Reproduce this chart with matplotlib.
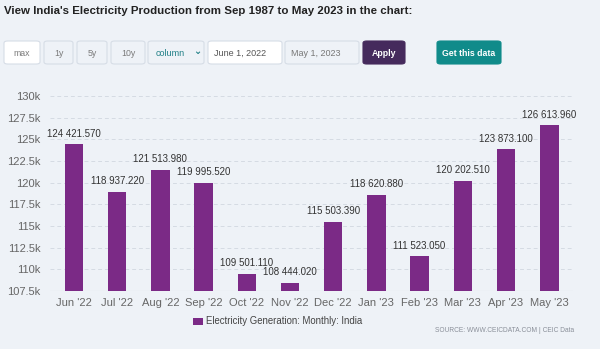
import numpy as np
import matplotlib.pyplot as plt
from matplotlib.patches import FancyBboxPatch, Rectangle
from matplotlib.ticker import FuncFormatter

months = ["Jun '22", "Jul '22", "Aug '22", "Sep '22", "Oct '22", "Nov '22",
          "Dec '22", "Jan '23", "Feb '23", "Mar '23", "Apr '23", "May '23"]
values = [124421.570, 118937.220, 121513.980, 119995.520, 109501.110, 108444.020,
          115503.390, 118620.880, 111523.050, 120202.510, 123873.100, 126613.960]
y_ticks = [107500, 110000, 112500, 115000, 117500, 120000, 122500, 125000, 127500, 130000]

bg = '#eef2f7'
bar_color = '#7b2a86'
sans = ['Liberation Sans', 'DejaVu Sans']

W, H = 600, 349
fig = plt.figure(figsize=(6, 3.49), dpi=100, facecolor=bg)


def px(x, y):
    # pixel coords (top-left origin) -> figure fraction
    return x / W, 1 - y / H


# title, shrunk to about the width it has in the screenshot
title = fig.text(*px(4, 11), "View India's Electricity Production from Sep 1987 to May 2023 in the chart:",
                 fontsize=10, fontweight='bold', color='#222222', va='center', ha='left',
                 family=sans)
r = fig.canvas.get_renderer()
w = title.get_window_extent(r).width
title.set_fontsize(10 * 405 / w)

# button row
buttons = [
    (4, 40, 'max', 'white', '#7a7a7a', 'normal'),
    (44, 73, '1y', bg, '#7a7a7a', 'normal'),
    (77, 107, '5y', bg, '#7a7a7a', 'normal'),
    (111, 145, '10y', bg, '#7a7a7a', 'normal'),
    (148, 204, 'column', bg, '#1f7f86', 'normal'),
    (208, 282, 'June 1, 2022', 'white', '#555555', 'normal'),
    (285, 359, 'May 1, 2023', bg, '#777777', 'normal'),
    (363, 405, 'Apply', '#452a5c', 'white', 'bold'),
    (437, 501, 'Get this data', '#108b8a', 'white', 'bold'),
]
for x0, x1, label, fc, tc, fw in buttons:
    bx, by = px(x0, 64)
    bw = (x1 - x0) / W
    bh = 23 / H
    edge = '#d6dde6' if fc in ('white', bg) else fc
    fig.patches.append(FancyBboxPatch((bx, by), bw, bh, boxstyle='round,pad=0,rounding_size=0.006',
                                      transform=fig.transFigure, facecolor=fc, edgecolor=edge,
                                      linewidth=0.8))
    if label == 'column':
        fig.text(*px(x0 + 8, 53), label, fontsize=6.5, color=tc, va='center', ha='left',
                 family=sans)
        fig.text(*px(x1 - 7, 51), '\u2304', fontsize=7, color=tc, va='center', ha='center',
                 fontweight='bold')
    elif label in ('June 1, 2022', 'May 1, 2023'):
        fig.text(*px(x0 + 6, 53), label, fontsize=6.5, color=tc, va='center', ha='left',
                 family=sans)
    else:
        fig.text(*px((x0 + x1) / 2, 53), label, fontsize=6.3, color=tc, va='center',
                 ha='center', fontweight=fw, family=sans)

# chart
ax = fig.add_axes([50 / W, 1 - 291 / H, (573 - 50) / W, (291 - 96) / H])
ax.set_facecolor(bg)
x = np.arange(len(months))
ax.bar(x, values, width=0.43, color=bar_color, zorder=3)
ax.set_xlim(-0.555, 11.55)
ax.set_ylim(107500, 130000)
ax.set_yticks(y_ticks)
ax.yaxis.set_major_formatter(FuncFormatter(lambda v, p: ('%g' % (v / 1000)) + 'k'))
ax.set_xticks(x)
ax.set_xticklabels(months)
ax.tick_params(axis='both', length=0, labelsize=8, colors='#666666')
ax.tick_params(axis='y', pad=7)
ax.tick_params(axis='x', pad=5)
for t in ax.get_xticklabels() + ax.get_yticklabels():
    t.set_family(sans)
ax.grid(axis='y', color='#d5dbe3', linestyle=(0, (4, 3)), linewidth=0.7, zorder=0)
for s in ax.spines.values():
    s.set_visible(False)
ax.axhline(107500, color='#d5dbe3', linewidth=0.8, zorder=1)

for xi, v in zip(x, values):
    lbl = '{:,.3f}'.format(v).replace(',', ' ')
    ax.annotate(lbl, (xi, v), xytext=(0, 4), textcoords='offset points', ha='center',
                va='bottom', fontsize=7, color='#333333', zorder=4, family=sans)

# legend
fig.patches.append(Rectangle(px(193, 325), 10 / W, 7 / H, transform=fig.transFigure,
                             facecolor=bar_color, edgecolor='none'))
fig.text(*px(206, 321), 'Electricity Generation: Monthly: India', fontsize=6.9,
         color='#444444', va='center', ha='left', family=sans)

fig.text(*px(574, 331), 'SOURCE: WWW.CEICDATA.COM | CEIC Data', fontsize=4.8,
         color='#8a8f99', va='center', ha='right', family=sans)

fig.savefig('out.png', dpi=100, facecolor=bg)
